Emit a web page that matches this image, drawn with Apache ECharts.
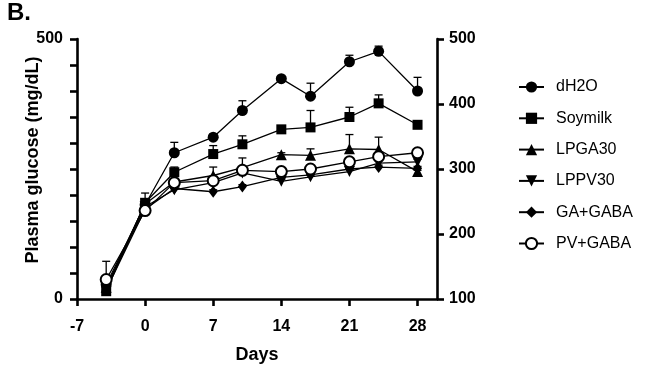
<!DOCTYPE html>
<html>
<head>
<meta charset="utf-8">
<script src="https://cdn.jsdelivr.net/npm/echarts@6/dist/echarts.min.js"></script>
<style>html,body{margin:0;padding:0;background:#fff;}#c{width:650px;height:371px;}</style>
</head>
<body>
<div id="c"></div>
<script>
// Data
const days = [-4, 0, 3, 7, 10, 14, 17, 21, 24, 28];
const xTicks = [-7, 0, 7, 14, 21, 28];
const leftTickLabels = [0, 500];
const rightTicks = [100, 200, 300, 400, 500];
const seriesNames = ['dH2O', 'Soymilk', 'LPGA30', 'LPPV30', 'GA+GABA', 'PV+GABA'];
const dH2O     = [122, 245, 325, 349, 390, 439, 412, 465, 481, 420];
const dH2O_err = [ 36,  18,  16,   4,  15,   3,  20,  10,   8,  21];
const soymilk     = [112, 248, 295, 323, 338, 361, 364, 380, 401, 368];
const soymilk_err = [  5,   6,   8,  13,  13,   4,  26,  15,  13,   2];
const lpga30     = [118, 246, 280, 290, 302, 322, 321, 331, 330, 296];
const lpga30_err = [  4,   8,   5,  13,  15,   3,  10,  22,  19,   2];
const lppv30     = [116, 242, 268, 279, 294, 281, 288, 296, 309, 311];
const lppv30_err = [  3,   4,   4,   5,   5,   3,   3,   4,   5,   4];
const gaGaba     = [114, 238, 270, 265, 273, 287, 291, 300, 303, 301];
const gaGaba_err = [  3,   4,   4,   3,   3,   3,   3,   3,   3,   3];
const pvGaba     = [130, 236, 279, 282, 298, 296, 300, 311, 319, 325];
const pvGaba_err = [  4,   5,   5,   6,   5,   4,   4,   5,   6,   5];

const values = [dH2O, soymilk, lpga30, lppv30, gaGaba, pvGaba];
const errs = [dH2O_err, soymilk_err, lpga30_err, lppv30_err, gaGaba_err, pvGaba_err];
const symbols = ['circle', 'rect', 'triangle', 'triangle', 'diamond', 'emptyCircle'];
const symbolSizes = [11, 10, 11, 11, [9, 12], 11];
const symbolRotates = [0, 0, 0, 180, 0, 0];

const FONT = '"Liberation Sans", Arial, sans-serif';
const chart = echarts.init(document.getElementById('c'));

const series = [];
values.forEach((vals, i) => {
  series.push({
    type: 'custom',
    xAxisIndex: 0,
    yAxisIndex: 0,
    silent: true,
    z: 1,
    data: days.map((d, k) => [d, vals[k], vals[k] + errs[i][k]]),
    encode: { x: 0, y: 1 },
    renderItem: function (params, api) {
      const p = api.coord([api.value(0), api.value(1)]);
      const t = api.coord([api.value(0), api.value(2)]);
      return {
        type: 'group',
        children: [
          { type: 'line', shape: { x1: p[0], y1: p[1], x2: t[0], y2: t[1] }, style: { stroke: '#000', lineWidth: 1.3 } },
          { type: 'line', shape: { x1: t[0] - 4, y1: t[1], x2: t[0] + 4, y2: t[1] }, style: { stroke: '#000', lineWidth: 1.3 } }
        ]
      };
    }
  });
});
values.forEach((vals, i) => {
  series.push({
    name: seriesNames[i],
    type: 'line',
    xAxisIndex: 0,
    yAxisIndex: 0,
    z: 3,
    data: days.map((d, k) => [d, vals[k]]),
    symbol: symbols[i],
    symbolSize: symbolSizes[i],
    symbolRotate: symbolRotates[i],
    showAllSymbol: true,
    color: '#000',
    lineStyle: { color: '#000', width: 1.3 },
    itemStyle: symbols[i] === 'emptyCircle' ? { color: '#000', borderColor: '#000', borderWidth: 2.2 } : { color: '#000' },
    emphasis: { disabled: true },
    animation: false
  });
});

const gridPos = { left: 77, right: 213, top: 39, bottom: 72 };

chart.setOption({
  animation: false,
  backgroundColor: '#fff',
  textStyle: { fontFamily: FONT },
  grid: [Object.assign({}, gridPos), Object.assign({}, gridPos)],
  graphic: [{
    type: 'text', left: 7, top: 1,
    style: { text: 'B.', font: 'bold 24px ' + FONT, fill: '#000' }
  }],
  legend: {
    orient: 'vertical',
    left: 513,
    top: 74,
    itemWidth: 25,
    itemHeight: 14,
    itemGap: 15.3,
    data: seriesNames,
    textStyle: { fontSize: 16, color: '#000', fontFamily: FONT, lineHeight: 16, padding: [0, 0, 0, 7] },
    selectedMode: false
  },
  xAxis: [{
    type: 'value',
    gridIndex: 0,
    min: -7, max: 30, interval: 7,
    name: 'Days',
    nameLocation: 'middle',
    nameGap: 47,
    nameMoveOverlap: false,
    nameTextStyle: { fontSize: 18, fontWeight: 'bold', color: '#000', fontFamily: FONT },
    axisLine: { onZero: false, lineStyle: { color: '#000', width: 2.6 } },
    axisTick: { show: true, length: 7, lineStyle: { color: '#000', width: 2.6 }, customValues: xTicks },
    axisLabel: { fontSize: 16, fontWeight: 'bold', color: '#000', margin: 20, fontFamily: FONT, customValues: xTicks,
      formatter: v => (xTicks.indexOf(v) >= 0 ? String(v) : '') },
    splitLine: { show: false }
  }, {
    type: 'value',
    gridIndex: 1,
    min: 0, max: 1,
    show: false,
    axisLine: { onZero: false }
  }],
  yAxis: [{
    type: 'value',
    gridIndex: 0,
    position: 'right',
    min: 100, max: 500, interval: 100,
    axisLine: { show: true, onZero: false, lineStyle: { color: '#000', width: 2.6 } },
    axisTick: { show: true, length: 7, lineStyle: { color: '#000', width: 2.6 } },
    axisLabel: { fontSize: 16, fontWeight: 'bold', color: '#000', margin: 12, fontFamily: FONT,
      formatter: v => (rightTicks.indexOf(v) >= 0 ? String(v) : '') },
    splitLine: { show: false }
  }, {
    type: 'value',
    gridIndex: 1,
    position: 'left',
    min: 0, max: 500, interval: 50,
    name: 'Plasma glucose (mg/dL)',
    nameLocation: 'middle',
    nameGap: 35,
    nameRotate: 90,
    nameMoveOverlap: false,
    nameTextStyle: { fontSize: 18, fontWeight: 'bold', color: '#000', fontFamily: FONT, padding: [0, 0, 0, 18] },
    axisLine: { show: true, onZero: false, lineStyle: { color: '#000', width: 2.6 } },
    axisTick: { show: true, length: 7, lineStyle: { color: '#000', width: 2.6 } },
    axisLabel: { fontSize: 16, fontWeight: 'bold', color: '#000', margin: 14, fontFamily: FONT,
      formatter: v => (leftTickLabels.indexOf(v) >= 0 ? String(v) : '') },
    splitLine: { show: false }
  }],
  series: series
});
</script>
</body>
</html>
